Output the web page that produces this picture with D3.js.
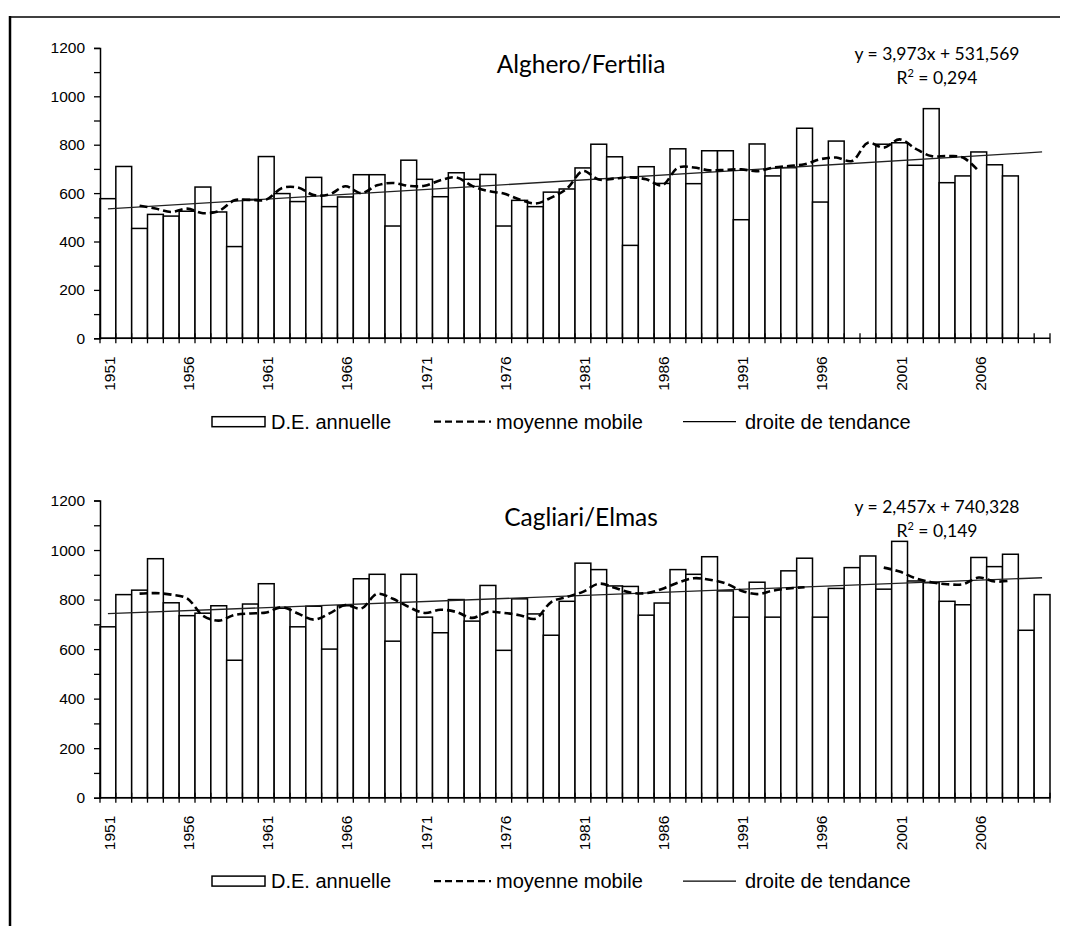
<!DOCTYPE html>
<html><head><meta charset="utf-8">
<script src="https://cdn.jsdelivr.net/npm/d3@7"></script>
<style>
html,body{margin:0;padding:0;background:#fff;}
svg{display:block;}
</style>
</head><body>
<svg id="chart" width="1072" height="926"></svg>
<script>
const years = d3.range(1951, 2011);
const yTickValues = d3.range(0, 1201, 100);
const yLabelValues = [0, 200, 400, 600, 800, 1000, 1200];
const xLabelYears = [1951, 1956, 1961, 1966, 1971, 1976, 1981, 1986, 1991, 1996, 2001, 2006];
const legendLabels = ["D.E. annuelle", "moyenne mobile", "droite de tendance"];

const algheroTitle = "Alghero/Fertilia";
const algheroEq = "y = 3,973x + 531,569";
const algheroR2 = "0,294";
const algheroValues = [577,710,454,512,505,525,625,522,379,574,
  751,598,565,665,544,584,676,676,464,736,
  657,585,684,657,677,464,570,544,604,617,
  704,802,750,384,709,640,783,639,775,775,
  490,803,671,705,868,563,815,null,null,802,
  808,715,949,643,671,770,717,671,null,null];
const algheroMA = [null,null,548,536,522,536,517,526,570,572,
  573,621,623,592,595,628,600,632,642,630,
  630,653,665,630,609,598,574,557,581,619,
  691,656,660,665,657,632,705,706,694,696,
  698,691,705,712,719,740,747,733,808,788,
  822,784,753,753,747,691,null,null,null,null];
const algheroTrend = [535, 770];

const cagliariTitle = "Cagliari/Elmas";
const cagliariEq = "y = 2,457x + 740,328";
const cagliariR2 = "0,149";
const cagliariValues = [690,820,838,965,787,735,745,775,555,782,
  864,765,690,773,600,775,884,902,632,902,
  729,666,800,713,857,595,803,742,656,793,
  947,921,855,853,737,786,921,902,973,835,
  729,870,729,916,967,729,845,929,976,842,
  1035,875,868,793,779,970,933,983,676,820];
const cagliariMA = [null,null,824,826,820,805,735,715,738,744,
  748,769,744,719,744,778,764,823,803,770,
  746,759,750,726,750,746,737,723,790,811,
  831,864,848,828,826,843,868,886,880,866,
  836,822,836,845,850,null,null,null,null,929,
  913,886,870,862,862,889,873,876,null,null];
const cagliariTrend = [743, 888];

const svg = d3.select("#chart");
const axisFont = "'Liberation Sans', Arial, sans-serif";
const titleFont = "Lato, 'Open Sans', sans-serif";

// frame
svg.append("line").attr("x1",10).attr("x2",10).attr("y1",16).attr("y2",926)
  .attr("stroke","#000").attr("stroke-width",2.5);
svg.append("line").attr("x1",9).attr("x2",1060).attr("y1",17).attr("y2",17)
  .attr("stroke","#000").attr("stroke-width",1.5);

const x = d3.scaleBand().domain(years).range([100, 1050]).padding(0);

function panel(cfg) {
  const y = d3.scaleLinear().domain([0, 1200]).range([cfg.y0, cfg.y1]);
  const g = svg.append("g");

  // bars
  g.append("g").selectAll("rect")
    .data(years.map((yr, i) => ({yr, v: cfg.values[i]})).filter(d => d.v != null))
    .join("rect")
    .attr("x", d => x(d.yr))
    .attr("y", d => y(d.v))
    .attr("width", x.bandwidth())
    .attr("height", d => y(0) - y(d.v))
    .attr("fill", "#fff")
    .attr("stroke", "#000")
    .attr("stroke-width", 1.5);

  // trend line
  g.append("line")
    .attr("x1", x(years[0]) + x.bandwidth()/2)
    .attr("x2", x(years[years.length-1]) + x.bandwidth()/2)
    .attr("y1", y(cfg.trend[0]))
    .attr("y2", y(cfg.trend[1]))
    .attr("stroke", "#222").attr("stroke-width", 1.3);

  // moving average
  const line = d3.line()
    .defined(d => d.v != null)
    .x(d => x(d.yr) + x.bandwidth()/2)
    .y(d => y(d.v))
    .curve(d3.curveCatmullRom.alpha(0.5));
  g.append("path")
    .datum(years.map((yr, i) => ({yr, v: cfg.ma[i]})))
    .attr("d", line)
    .attr("fill", "none")
    .attr("stroke", "#000")
    .attr("stroke-width", 2.6)
    .attr("stroke-dasharray", "8,4");

  // y axis
  const yAxis = d3.axisLeft(y).tickValues(yTickValues).tickSize(6).tickPadding(9)
    .tickFormat(d => yLabelValues.includes(d) ? d : "");
  const ya = g.append("g").attr("transform", "translate(100,0)").call(yAxis);
  ya.select(".domain").attr("stroke-width", 1.5);
  ya.selectAll(".tick line").attr("stroke-width", 1.3);
  ya.selectAll("text").attr("font-family", axisFont).attr("font-size", 15.5).attr("fill", "#000");

  // x axis line + crossing ticks at category boundaries
  const xa = g.append("g");
  xa.append("line").attr("x1", 100).attr("x2", 1050)
    .attr("y1", y(0)).attr("y2", y(0)).attr("stroke", "#000").attr("stroke-width", 1.5);
  const bounds = years.map(yr => x(yr)).concat([x.range()[1]]);
  xa.selectAll("line.tk").data(bounds).join("line").attr("class","tk")
    .attr("x1", d => d).attr("x2", d => d)
    .attr("y1", y(0) - 5).attr("y2", y(0) + 5)
    .attr("stroke", "#000").attr("stroke-width", 1.3);

  // x labels
  const xAxis = d3.axisBottom(x).tickValues(xLabelYears).tickSize(0).tickPadding(0);
  const xl = g.append("g").attr("transform", `translate(0,${y(0)})`).call(xAxis);
  xl.select(".domain").remove();
  xl.selectAll("text")
    .attr("font-family", axisFont).attr("font-size", 15.5).attr("fill", "#000")
    .attr("transform", "rotate(-90)")
    .attr("text-anchor", "end")
    .attr("x", -18).attr("y", 1.5).attr("dy", "0.35em");

  // title
  g.append("text").attr("x", 581).attr("y", y(1200) + 25)
    .attr("text-anchor", "middle").attr("font-family", titleFont)
    .attr("font-size", 24.5).attr("fill", "#000").text(cfg.title);

  // equation
  g.append("text").attr("x", 937).attr("y", y(1200) + 12)
    .attr("text-anchor", "middle").attr("font-family", titleFont)
    .attr("font-size", 17.5).attr("fill", "#000").text(cfg.eq);
  const r2 = g.append("text").attr("x", 937).attr("y", y(1200) + 36)
    .attr("text-anchor", "middle").attr("font-family", titleFont)
    .attr("font-size", 17.5).attr("fill", "#000");
  r2.append("tspan").text("R");
  r2.append("tspan").attr("font-size", 11).attr("dy", -7).text("2");
  r2.append("tspan").attr("dy", 7).text(" = " + cfg.r2);

  // legend
  const ly = y(0) + 83.4;
  const lg = g.append("g");
  lg.append("rect").attr("x", 212).attr("y", ly - 5).attr("width", 53).attr("height", 10)
    .attr("fill", "#fff").attr("stroke", "#000").attr("stroke-width", 1.5);
  lg.append("text").attr("x", 271).attr("y", ly).attr("dy", "0.36em")
    .attr("font-family", axisFont).attr("font-size", 20).attr("fill", "#000").text(legendLabels[0]);
  lg.append("line").attr("x1", 434).attr("x2", 491).attr("y1", ly).attr("y2", ly)
    .attr("stroke", "#000").attr("stroke-width", 2.2).attr("stroke-dasharray", "7,4");
  lg.append("text").attr("x", 496).attr("y", ly).attr("dy", "0.36em")
    .attr("font-family", axisFont).attr("font-size", 20).attr("fill", "#000").text(legendLabels[1]);
  lg.append("line").attr("x1", 683).attr("x2", 736).attr("y1", ly).attr("y2", ly)
    .attr("stroke", "#000").attr("stroke-width", 1.2);
  lg.append("text").attr("x", 745).attr("y", ly).attr("dy", "0.36em")
    .attr("font-family", axisFont).attr("font-size", 20).attr("fill", "#000").text(legendLabels[2]);
}

panel({y0: 338.3, y1: 47.9, values: algheroValues, ma: algheroMA, trend: algheroTrend,
  title: algheroTitle, eq: algheroEq, r2: algheroR2});
panel({y0: 797.7, y1: 500.5, values: cagliariValues, ma: cagliariMA, trend: cagliariTrend,
  title: cagliariTitle, eq: cagliariEq, r2: cagliariR2});
</script>
</body></html>
